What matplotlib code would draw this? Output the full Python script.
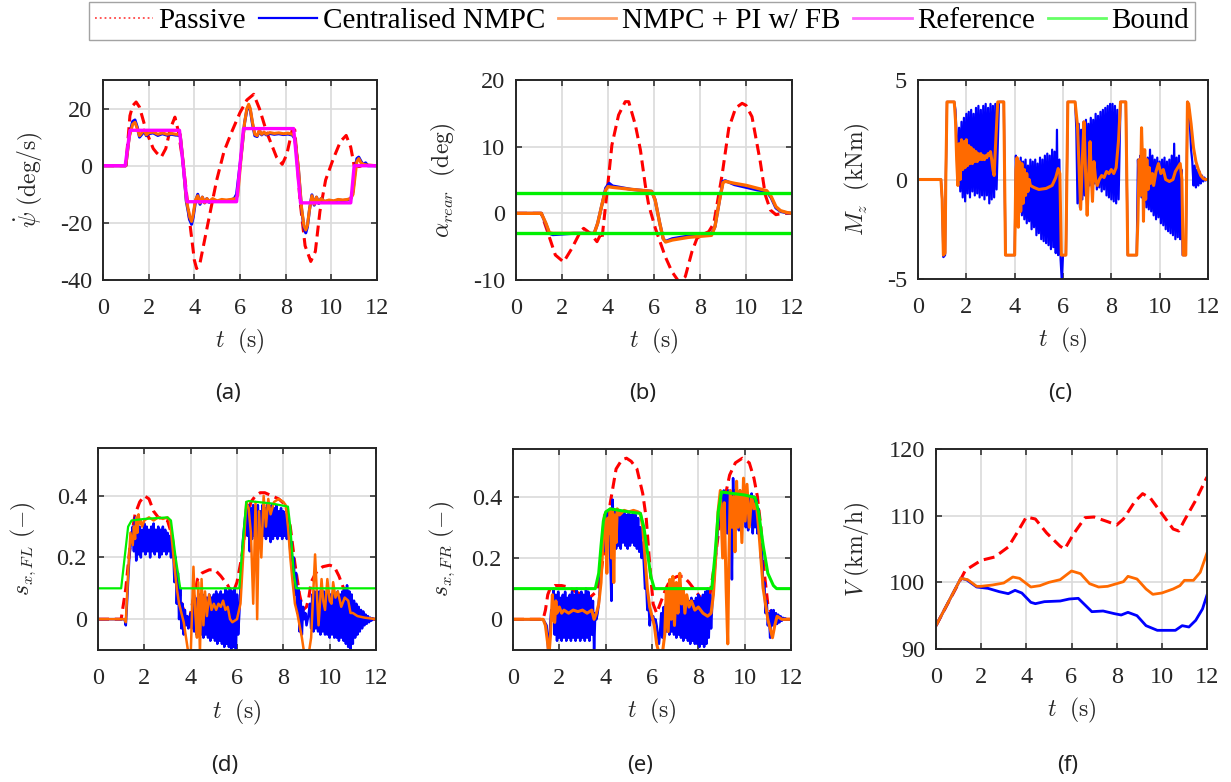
import numpy as np
import matplotlib
matplotlib.use("Agg")
import matplotlib.pyplot as plt
from matplotlib.lines import Line2D

plt.rcParams['font.family'] = ['Liberation Serif', 'DejaVu Serif']
plt.rcParams['mathtext.fontset'] = 'cm'
plt.rcParams['axes.unicode_minus'] = False


def band(t0, dt, vals):
    return [(round(t0 + i * dt, 4), v) for i, v in enumerate(vals)]


def xy(pts):
    a = np.array(pts, dtype=float)
    return a[:, 0], a[:, 1]


# ---------------- (a) yaw rate (deg/s) ----------------
ref_a = [(0, 0), (0.97, 0), (1.18, 12.4), (3.35, 12.4), (3.68, -12.6), (5.85, -12.6),
         (6.15, 13.0), (8.35, 13.0), (8.65, -13.0), (10.85, -13.0), (11.0, 0), (12, 0)]
pas_a = [(0, 0), (1.0, 0), (1.18, 17.5), (1.3, 21), (1.45, 22.3), (1.6, 20.5), (1.91, 11.7),
         (2.2, 6), (2.35, 4.5), (2.55, 3), (2.75, 6), (2.95, 13), (3.15, 17), (3.3, 12),
         (3.52, 0.2), (3.81, -20.5), (4.0, -33), (4.1, -36), (4.25, -34), (4.55, -22),
         (4.98, -5), (5.3, 5), (5.63, 11.7), (6.0, 18.6), (6.3, 23), (6.6, 25), (6.85, 20),
         (7.17, 11.7), (7.6, 3), (7.85, 0.5), (8.05, 4), (8.3, 13), (8.4, 12.5), (8.63, -12.4),
         (8.85, -28), (9.1, -33.5), (9.3, -30), (9.5, -16), (9.75, -5), (10.09, 2.5),
         (10.4, 8.5), (10.65, 10.6), (10.85, 6.5), (11.0, 0), (11.2, -0.3), (11.5, 0.2), (12, 0)]
cen_a = [(0, 0), (1.0, 0), (1.15, 10.5), (1.3, 15.5), (1.4, 16.0), (1.5, 13.5), (1.6, 10.0),
         (1.7, 11.0), (1.8, 12.0), (1.9, 10.5), (2.0, 11.2), (2.2, 11.5), (2.4, 10.6), (2.6, 11.2),
         (2.8, 10.7), (3.0, 11.0), (3.2, 10.7), (3.38, 10.8), (3.5, 1.5), (3.65, -12.5),
         (3.8, -19), (3.88, -20.5), (3.95, -18), (4.05, -12.5), (4.15, -10), (4.25, -13.5),
         (4.35, -11), (4.45, -13), (4.55, -11.5), (4.65, -12.8), (4.8, -11.8), (5.0, -12.5),
         (5.2, -12.2), (5.4, -12.3), (5.6, -12), (5.75, -11.5), (5.85, -10.0), (6.05, 3.5),
         (6.2, 15), (6.3, 19.5), (6.38, 21), (6.45, 19.5), (6.55, 14.5), (6.65, 10.5),
         (6.75, 10.2), (6.85, 12.2), (6.95, 10.8), (7.05, 11.5), (7.15, 10.8), (7.3, 11.3),
         (7.5, 11.0), (7.7, 11.2), (7.9, 10.9), (8.1, 11.1), (8.3, 10.7), (8.4, 9.5), (8.55, -0.5),
         (8.7, -15.5), (8.8, -21.5), (8.88, -23.5), (8.95, -21.5), (9.05, -15), (9.15, -10.2),
         (9.25, -13.8), (9.35, -11), (9.45, -13.2), (9.55, -11.5), (9.7, -12.6), (9.9, -12.2),
         (10.1, -12.5), (10.3, -12), (10.5, -12.2), (10.7, -12), (10.85, -11.5), (10.95, -9),
         (11.05, -1), (11.12, 2.5), (11.2, 3.0), (11.3, 1.5), (11.4, 0.3), (11.5, 1.0), (11.6, 0.0), (12, 0)]
pi_a = [(0, 0), (1.0, 0), (1.15, 10), (1.3, 14.5), (1.4, 15.2), (1.5, 13), (1.6, 10.5), (1.7, 11.5),
        (1.8, 12.5), (1.9, 10.8), (2.0, 11.5), (2.2, 11.8), (2.4, 11), (2.6, 11.5), (2.8, 11),
        (3.0, 11.3), (3.2, 11), (3.38, 11), (3.5, 2), (3.65, -12), (3.8, -18), (3.88, -19.5),
        (3.95, -17), (4.05, -12), (4.15, -10.5), (4.25, -13), (4.35, -11), (4.45, -13),
        (4.55, -11.5), (4.65, -12.5), (4.8, -11.5), (5.0, -12.3), (5.2, -11.8), (5.4, -12),
        (5.6, -11.8), (5.8, -11.5), (5.9, -10.5), (6.05, 3), (6.2, 15), (6.3, 20), (6.38, 21.5),
        (6.45, 20), (6.55, 15), (6.65, 11), (6.75, 10.5), (6.85, 12.5), (6.95, 11), (7.05, 11.8),
        (7.15, 11), (7.3, 11.6), (7.5, 11.3), (7.7, 11.5), (7.9, 11.2), (8.1, 11.4), (8.3, 11),
        (8.4, 10), (8.55, 0), (8.7, -15), (8.8, -21), (8.88, -22.5), (8.95, -21), (9.05, -15),
        (9.15, -10.5), (9.25, -13.5), (9.35, -11), (9.45, -13), (9.55, -11.5), (9.7, -12.5),
        (9.9, -12), (10.1, -12.3), (10.3, -11.8), (10.5, -12), (10.7, -11.8), (10.85, -11.5),
        (10.95, -10), (11.05, -3), (11.12, 1.5), (11.2, 2.5), (11.3, 1), (11.4, 0.5), (11.6, 0.2), (12, 0)]

# ---------------- (b) rear slip angle (deg) ----------------
bound_b = [3.0, -3.0]
pas_b = [(0, 0), (1.1, 0), (1.42, -3.25), (1.71, -6.25), (2.07, -7.3), (2.43, -5.25),
         (2.8, -2.75), (2.94, -2.25), (3.23, -3.0), (3.52, -4.25), (3.67, -3.25), (3.74, -3.75),
         (3.96, 3.25), (4.17, 10.25), (4.46, 14.75), (4.75, 16.75), (4.9, 16.75), (5.19, 13.25),
         (5.41, 9.5), (5.62, 4.25), (5.77, 1.25), (6.06, -2.25), (6.49, -6.5), (6.78, -8.75),
         (7.07, -10.2), (7.36, -9.5), (7.65, -5.75), (7.87, -3.75), (8.1, -3.2), (8.38, -2.75),
         (8.6, -1.5), (8.96, 5.75), (9.25, 12.75), (9.55, 15.8), (9.83, 16.5), (10.0, 16.2),
         (10.26, 14.5), (10.62, 7.75), (10.84, 2.75), (11.06, 0.5), (11.3, -0.2), (11.6, 0), (12, 0)]
cen_b = [(0, 0), (1.1, 0), (1.3, -1.6), (1.45, -3.0), (1.6, -3.2), (2.5, -3.0), (3.4, -3.0),
         (3.55, -1.5), (3.75, 1.5), (3.9, 3.8), (4.05, 4.5), (4.2, 4.1), (5.0, 3.6), (5.9, 3.3),
         (6.05, 2.0), (6.25, -1.5), (6.4, -3.8), (6.5, -4.2), (6.8, -3.8), (7.5, -3.4), (8.5, -3.1),
         (8.65, -2), (8.85, 2), (9.0, 4.8), (9.1, 4.9), (9.5, 4.3), (10.0, 3.9), (10.5, 3.5),
         (10.9, 3.3), (11.1, 2.3), (11.3, 0.8), (11.5, 0.3), (11.8, 0.05), (12, 0)]
pi_b = [(0, 0), (1.1, 0), (1.3, -1.5), (1.45, -2.9), (1.6, -3.0), (2.5, -3.0), (3.4, -3.0),
        (3.55, -1.5), (3.75, 1.5), (3.9, 3.5), (4.0, 4.0), (4.2, 3.9), (5.0, 3.6), (5.9, 3.3),
        (6.05, 2.0), (6.25, -1.5), (6.4, -3.8), (6.5, -4.3), (6.8, -4.0), (7.5, -3.6), (8.5, -3.3),
        (8.65, -2), (8.85, 2), (9.0, 4.6), (9.1, 4.8), (9.5, 4.5), (10.0, 4.2), (10.9, 3.4),
        (11.1, 2.5), (11.3, 1.0), (11.5, 0.4), (11.8, 0.1), (12, 0)]

# ---------------- (c) yaw moment (kNm) ----------------
cen_c = ([(0, 0), (0.95, 0), (1.0, -1), (1.05, -3.9), (1.12, -3.8), (1.15, 0), (1.2, 3.9),
          (1.5, 3.9), (1.55, 3.5)]
         + band(1.6, 0.05, [2.2, -0.2, 2.6, -0.6, 2.9, -0.9, 3.1, -1.1, 3.3, -0.7, 3.4, -0.9,
                            3.5, -0.6, 3.3, -0.8, 3.6, -0.7, 3.7, -0.9, 3.5, -0.8, 3.7, -1.0,
                            3.8, -0.8, 3.6, -1.2, 3.8, -1.0, 3.7, -0.9, 3.8, -0.5])
         + [(3.35, 3.9), (3.55, 3.9), (3.62, -3.8), (4.0, -3.8)]
         + band(4.05, 0.05, [1.2, -1.2, 0.8, -1.6, 1.1, -1.8, 0.9, -2.0, 1.0, -2.2, 0.7, -2.1,
                             1.0, -2.5, 0.9, -2.4, 1.0, -2.8, 0.8, -2.7, 1.1, -3.0, 1.0, -3.1,
                             1.2, -3.2, 1.3, -3.3, 1.2, -3.5, 1.5, -3.4, 1.4, -3.7, 2.5, -3.8,
                             1.0, -4.0])
         + [(5.95, -5.1), (6.0, -3.8), (6.12, -3.8), (6.2, 3.9), (6.5, 3.9)]
         + band(6.55, 0.05, [2.6, -1.2, 2.8, -1.4, 2.5, -1.0, 2.9, -0.8, 3.0, -0.6, 2.8, -0.3,
                             3.1, -0.4, 3.0, -0.2, 3.3, -0.5, 3.2, -0.4, 3.4, -0.6, 3.5, -0.5,
                             3.6, -0.8, 3.7, -0.9, 3.8, -1.0, 3.8, -1.1, 3.7, -1.2, 3.5, -1.0])
         + [(8.38, 3.9), (8.6, 3.9), (8.68, -3.8), (9.05, -3.8)]
         + band(9.1, 0.05, [1.0, -0.5, 1.2, -0.9, 1.0, -1.2, 0.9, -1.4, 1.1, -1.5, 1.5, -1.6,
                            1.2, -1.8, 1.0, -2.0, 1.1, -1.9, 0.9, -2.2, 1.0, -2.3, 1.1, -2.5,
                            0.9, -2.6, 1.0, -2.7, 1.2, -2.8, 1.8, -3.0, 1.1, -2.9, 1.2, -3.0, 0.5])
         + [(10.95, -3.8), (11.08, -3.8), (11.15, 3.9), (11.22, 3.5), (11.3, 1.5)]
         + band(11.35, 0.05, [0.9, -0.3, 0.7, -0.4, 0.5, -0.3, 0.4, -0.2, 0.2, -0.1, 0.1, -0.05,
                              0.02, 0.0]))
pi_c = ([(0, 0), (0.95, 0), (1.0, -1), (1.05, -3.8), (1.12, -3.7), (1.15, 0), (1.2, 3.9),
         (1.5, 3.9), (1.55, 3.0)]
        + band(1.6, 0.05, [1.0, -0.3, 1.8, 0.0, 2.0, 0.5, 1.9, 0.6, 2.0, 0.7, 1.7, 0.8, 1.6,
                           0.8, 1.5, 0.9, 1.4, 0.9, 1.3, 1.0, 1.3, 1.0, 1.2, 1.0, 1.2, 1.1,
                           1.3, 1.2, 1.4, 1.0, 0.5, 0.2, 1.5])
        + [(3.3, 3.9), (3.55, 3.9), (3.62, -3.8), (4.0, -3.8)]
        + band(4.05, 0.05, [0.5, 1.1, -2.4, 0.9, -1.6, 0.8, -1.2, 0.5, -0.8, 0.3, -0.6, 0.0, -0.3])
        + [(4.8, -0.4), (5.0, -0.5), (5.3, -0.45), (5.55, -0.3), (5.7, 0.1), (5.8, 0.55),
           (5.87, 0.3), (5.93, -3.8), (6.12, -3.8), (6.2, 3.9), (6.5, 3.9), (6.55, 3.3),
           (6.6, 2.7), (6.67, 0.5), (6.73, -1.5), (6.8, 1.0), (6.87, 2.9), (6.93, 0.5),
           (7.0, -1.8), (7.06, 0.2), (7.12, 1.9), (7.17, 0.2), (7.22, -1.1), (7.28, 0.9),
           (7.35, 0.0), (7.42, -0.3), (7.5, 0.0), (7.6, 0.2), (7.7, 0.1), (7.8, 0.4), (7.9, 0.3),
           (8.0, 0.5), (8.1, 0.3), (8.2, 0.6), (8.3, 2.0), (8.38, 3.9), (8.6, 3.9), (8.68, -3.8),
           (9.05, -3.8), (9.1, -2.0), (9.15, 1.0), (9.2, -0.8), (9.25, 2.6), (9.3, 0.5),
           (9.33, -2.1), (9.38, 1.5), (9.42, -1.0), (9.47, 1.0), (9.52, -0.5), (9.57, 0.6),
           (9.62, -0.2), (9.7, 0.3), (9.75, -0.3), (9.85, 0.4), (9.95, 0.8), (10.05, 0.3),
           (10.15, 0.5), (10.25, 0.0), (10.4, -0.1), (10.55, 0.0), (10.65, 0.4), (10.75, 0.6),
           (10.85, 0.8), (10.92, 0.0), (10.97, -3.8), (11.08, -3.8), (11.15, 3.9), (11.2, 3.8),
           (11.3, 2.8), (11.4, 1.6), (11.5, 0.9), (11.6, 0.5), (11.7, 0.2), (11.8, 0.05),
           (11.9, 0.0), (12, 0.0)])

# ---------------- (d) front-left slip ratio (-) ----------------
bound_d = [(0, 0.1), (1.0, 0.1), (1.15, 0.2), (1.3, 0.3), (1.45, 0.32), (2.0, 0.325), (3.0, 0.33),
           (3.15, 0.32), (3.35, 0.2), (3.55, 0.1), (6.1, 0.1), (6.25, 0.25), (6.4, 0.38),
           (6.5, 0.383), (7.5, 0.375), (8.2, 0.365), (8.3, 0.3), (8.45, 0.15), (8.55, 0.1), (12, 0.1)]
pas_d = [(0, 0), (1.0, 0), (1.2, 0.1), (1.4, 0.25), (1.6, 0.34), (1.8, 0.38), (2.0, 0.40),
         (2.2, 0.39), (2.4, 0.35), (2.6, 0.33), (2.8, 0.325), (3.0, 0.32), (3.2, 0.27), (3.4, 0.15),
         (3.6, 0.05), (3.8, 0.01), (3.95, 0.0), (4.1, 0.06), (4.3, 0.13), (4.5, 0.15), (4.8, 0.16),
         (5.05, 0.16), (5.3, 0.14), (5.6, 0.11), (5.8, 0.08), (6.0, 0.12), (6.2, 0.2), (6.4, 0.32),
         (6.6, 0.38), (6.8, 0.40), (7.0, 0.41), (7.2, 0.41), (7.5, 0.40), (7.8, 0.39), (8.1, 0.37),
         (8.3, 0.3), (8.5, 0.18), (8.7, 0.08), (8.85, 0.03), (9.0, 0.04), (9.1, 0.07), (9.2, 0.12),
         (9.4, 0.15), (9.7, 0.17), (10.0, 0.175), (10.2, 0.17), (10.4, 0.14), (10.6, 0.1),
         (10.8, 0.05), (11.0, 0.02), (11.3, 0.0), (12, 0)]
cen_d = ([(0, 0), (1.0, 0), (1.15, 0.0), (1.2, -0.02), (1.25, 0.05), (1.35, 0.2), (1.45, 0.27)]
         + band(1.5, 0.05, [0.30, 0.22, 0.33, 0.19, 0.31, 0.21, 0.30, 0.20, 0.29, 0.22, 0.31, 0.21,
                            0.30, 0.22, 0.29, 0.20, 0.30, 0.22, 0.31, 0.21, 0.29, 0.22, 0.30, 0.20,
                            0.29, 0.21, 0.30, 0.22, 0.29, 0.21, 0.28, 0.22, 0.27, 0.20, 0.26])
         + band(3.25, 0.05, [0.22, 0.12, 0.20, 0.05, 0.15, 0.0, 0.10, -0.03, 0.05, -0.05, 0.03,
                             -0.02, 0.01, -0.03, 0.0])
         + band(4.0, 0.05, [0.02, -0.03, 0.06, -0.04, 0.07, -0.05, 0.06, -0.04, 0.08, -0.05, 0.07,
                            -0.06, 0.08, -0.05, 0.07, -0.06, 0.08, -0.07, 0.07, -0.06, 0.08, -0.07,
                            0.09, -0.08, 0.08, -0.07, 0.09, -0.08, 0.08, -0.09, 0.10, -0.08, 0.09,
                            -0.09, 0.10, -0.10, 0.09, -0.09, 0.10, -0.10, 0.08, -0.05, 0.02])
         + [(6.15, 0.1), (6.25, 0.25), (6.35, 0.33)]
         + band(6.4, 0.05, [0.36, 0.27, 0.37, 0.22, 0.36, 0.26, 0.37, 0.27, 0.36, 0.25, 0.37, 0.27,
                            0.35, 0.26, 0.37, 0.27, 0.36, 0.26, 0.37, 0.27, 0.36, 0.25, 0.37, 0.26,
                            0.36, 0.27, 0.37, 0.26, 0.35, 0.27, 0.36, 0.26, 0.35, 0.27, 0.34, 0.26,
                            0.33])
         + band(8.25, 0.05, [0.28, 0.22, 0.25, 0.15, 0.20, 0.08, 0.15, 0.02, 0.10, -0.04, 0.06,
                             -0.05, 0.04, 0.0, 0.02, -0.02, 0.0, 0.02])
         + band(9.15, 0.05, [0.05, -0.03, 0.08, -0.04, 0.09, -0.03, 0.08, -0.04, 0.09, -0.05, 0.08,
                             -0.04, 0.09, -0.05, 0.08, -0.05, 0.09, -0.06, 0.08, -0.05, 0.09, -0.06,
                             0.08, -0.06, 0.09, -0.07, 0.08, -0.06, 0.09, -0.07, 0.10, -0.08, 0.11,
                             -0.09, 0.09, -0.10, 0.08, -0.08, 0.06, -0.06, 0.05, -0.05, 0.04, -0.04,
                             0.03, -0.03, 0.025, -0.02, 0.015, -0.015, 0.01, -0.01, 0.005, -0.005,
                             0.003, 0.0, 0.0, 0.0]))
pi_d = [(0, 0), (1.0, 0), (1.15, 0.0), (1.2, -0.01), (1.3, 0.15), (1.4, 0.28), (1.5, 0.24),
        (1.55, 0.30), (1.6, 0.26), (1.65, 0.33), (1.7, 0.28), (1.75, 0.34), (1.8, 0.31), (1.85, 0.32),
        (1.9, 0.30), (2.0, 0.32), (2.2, 0.33), (2.4, 0.32), (2.6, 0.33), (2.8, 0.325), (3.0, 0.33),
        (3.1, 0.32), (3.2, 0.25), (3.3, 0.17), (3.4, 0.10), (3.5, 0.05), (3.6, 0.02), (3.7, -0.01),
        (3.8, -0.06), (3.9, -0.11), (4.0, -0.12), (4.05, 0.0), (4.12, 0.17), (4.2, 0.02),
        (4.27, -0.06), (4.33, 0.12), (4.4, -0.11), (4.47, 0.13), (4.55, -0.02), (4.62, 0.09),
        (4.7, 0.01), (4.8, 0.08), (4.9, 0.03), (5.0, 0.05), (5.1, 0.03), (5.2, 0.05), (5.3, 0.04),
        (5.4, 0.06), (5.5, 0.03), (5.6, 0.04), (5.7, 0.0), (5.8, -0.01), (6.0, 0.0), (6.15, 0.05),
        (6.3, 0.25), (6.4, 0.38), (6.5, 0.36), (6.6, 0.28), (6.7, 0.05), (6.8, 0.38), (6.87, 0.0),
        (6.95, 0.35), (7.05, 0.2), (7.15, 0.40), (7.25, 0.3), (7.35, 0.39), (7.45, 0.34), (7.6, 0.38),
        (7.8, 0.39), (8.0, 0.38), (8.1, 0.37), (8.2, 0.3), (8.3, 0.2), (8.4, 0.12), (8.5, 0.05),
        (8.6, 0.02), (8.7, -0.02), (8.8, -0.06), (8.9, -0.11), (9.1, -0.11), (9.2, -0.06),
        (9.3, 0.1), (9.37, 0.21), (9.45, 0.08), (9.52, -0.02), (9.58, 0.05), (9.65, 0.13),
        (9.72, 0.06), (9.8, 0.03), (9.9, 0.13), (10.0, 0.06), (10.08, 0.05), (10.15, 0.12),
        (10.25, 0.07), (10.35, 0.09), (10.5, 0.04), (10.65, 0.07), (10.8, 0.06), (10.9, 0.02),
        (11.0, 0.02), (11.2, 0.01), (11.5, 0.005), (12, 0)]

# ---------------- (e) front-right slip ratio (-) ----------------
bound_e = [(0, 0.1), (3.55, 0.1), (3.7, 0.15), (3.8, 0.24), (3.9, 0.32), (4.0, 0.35), (4.2, 0.36),
           (5.0, 0.35), (5.5, 0.345), (5.65, 0.3), (5.8, 0.22), (5.95, 0.14), (6.1, 0.1),
           (8.58, 0.1), (8.72, 0.21), (8.86, 0.35), (9.0, 0.415), (9.5, 0.41), (10.0, 0.405),
           (10.45, 0.397), (10.6, 0.35), (10.8, 0.24), (11.0, 0.15), (11.24, 0.11), (11.38, 0.1), (12, 0.1)]
pas_e = [(0, 0), (1.3, 0), (1.4, 0.03), (1.5, 0.08), (1.6, 0.1), (1.8, 0.11), (2.1, 0.11),
         (2.4, 0.105), (2.7, 0.09), (3.0, 0.08), (3.3, 0.07), (3.6, 0.09), (3.8, 0.15), (4.0, 0.27),
         (4.2, 0.38), (4.45, 0.49), (4.7, 0.52), (4.9, 0.525), (5.1, 0.515), (5.35, 0.49),
         (5.6, 0.41), (5.75, 0.33), (5.9, 0.18), (6.05, 0.05), (6.2, 0.02), (6.4, 0.06), (6.6, 0.1),
         (6.8, 0.13), (7.1, 0.14), (7.35, 0.14), (7.6, 0.12), (7.9, 0.09), (8.2, 0.06), (8.5, 0.08),
         (8.7, 0.18), (8.9, 0.3), (9.1, 0.38), (9.35, 0.47), (9.6, 0.51), (9.9, 0.525), (10.2, 0.51),
         (10.4, 0.46), (10.55, 0.40), (10.7, 0.3), (10.85, 0.15), (11.0, 0.05), (11.2, 0.01),
         (11.5, 0), (12, 0)]
cen_e = ([(0, 0), (1.3, 0), (1.45, -0.02), (1.52, -0.1), (1.58, -0.05), (1.65, 0.03), (1.7, 0.0)]
         + band(1.75, 0.05, [0.10, -0.05, 0.08, -0.07, 0.09, -0.06, 0.07, -0.07, 0.08, -0.06, 0.09,
                             -0.07, 0.07, -0.06, 0.08, -0.07, 0.09, -0.06, 0.08, -0.07, 0.10, -0.06,
                             0.08, -0.07, 0.09, -0.06, 0.08, -0.07, 0.10, -0.06, 0.09, -0.07, 0.07,
                             -0.05, 0.06, -0.10, 0.02, 0.0])
         + [(3.65, 0.02), (3.7, 0.05), (3.75, 0.1), (3.8, 0.18), (3.85, 0.25), (3.9, 0.3)]
         + band(3.95, 0.05, [0.32, 0.22, 0.35, 0.25, 0.30, 0.20, 0.06, 0.39, 0.24, 0.35, 0.23, 0.34,
                             0.24, 0.35, 0.23, 0.34, 0.25, 0.35, 0.24, 0.34, 0.23, 0.35, 0.24, 0.34,
                             0.25, 0.35, 0.24, 0.34, 0.23, 0.33, 0.22, 0.30, 0.20, 0.25])
         + band(5.65, 0.05, [0.18, 0.10, 0.12, 0.03, 0.06, -0.02, 0.02, 0.0, 0.01, -0.01, 0.0,
                             -0.02, -0.05, -0.08])
         + band(6.35, 0.05, [-0.04, 0.02, -0.06, 0.04, -0.05, 0.05, -0.04, 0.06, -0.05, 0.05, -0.04,
                             0.06, -0.05, 0.05, -0.06, 0.06, -0.05, 0.05, -0.06, 0.06, -0.07, 0.05,
                             -0.06, 0.07, -0.07, 0.06, -0.08, 0.07, -0.07, 0.06, -0.08, 0.07, -0.08,
                             0.08, -0.09, 0.07, -0.08, 0.08, -0.09, 0.09, -0.08, 0.10, -0.06, 0.08,
                             -0.03, 0.05])
         + [(8.65, 0.1), (8.75, 0.2), (8.85, 0.3), (8.95, 0.38)]
         + band(9.0, 0.05, [0.40, 0.30, 0.42, 0.32, 0.41, 0.28, 0.42, 0.31, 0.40, 0.13, 0.46, 0.30,
                            0.42, 0.31, 0.41, 0.29, 0.42, 0.30, 0.41, 0.32, 0.42, 0.30, 0.41, 0.29,
                            0.40, 0.31, 0.41, 0.28, 0.40, 0.30, 0.39, 0.28, 0.36])
         + band(10.65, 0.05, [0.30, 0.20, 0.22, 0.10, 0.12, 0.02, 0.06, -0.02, 0.02, -0.06, 0.03,
                              -0.02])
         + band(11.25, 0.05, [0.03, -0.02, 0.02, -0.015, 0.015, -0.01, 0.01, -0.005, 0.005, 0.0,
                              0.003, 0.0, 0.0, 0.0, 0.0, 0.0]))
pi_e = [(0, 0), (1.3, 0), (1.4, -0.02), (1.5, -0.08), (1.55, -0.12), (1.62, -0.05), (1.7, 0.08),
        (1.75, 0.0), (1.8, -0.01), (1.85, 0.06), (1.9, 0.02), (2.0, 0.04), (2.1, 0.02), (2.2, 0.03),
        (2.4, 0.02), (2.6, 0.03), (2.8, 0.025), (3.0, 0.03), (3.2, 0.02), (3.4, 0.03), (3.5, 0.0),
        (3.6, 0.02), (3.7, 0.05), (3.8, 0.12), (3.85, 0.2), (3.9, 0.30), (3.95, 0.34), (4.0, 0.30),
        (4.05, 0.15), (4.1, 0.33), (4.15, 0.28), (4.2, 0.36), (4.25, 0.2), (4.3, 0.35), (4.35, 0.12),
        (4.4, 0.34), (4.45, 0.25), (4.5, 0.36), (4.6, 0.34), (4.8, 0.355), (5.0, 0.35), (5.2, 0.355),
        (5.4, 0.35), (5.5, 0.345), (5.6, 0.3), (5.7, 0.2), (5.8, 0.1), (5.9, 0.04), (6.0, 0.01),
        (6.1, -0.02), (6.2, -0.08), (6.3, -0.11), (6.45, -0.11), (6.55, -0.05), (6.62, 0.1),
        (6.7, -0.04), (6.77, 0.13), (6.83, 0.0), (6.9, 0.14), (6.97, -0.02), (7.05, 0.12),
        (7.12, 0.02), (7.2, 0.15), (7.27, 0.05), (7.35, 0.1), (7.42, 0.02), (7.5, 0.08), (7.6, 0.04),
        (7.7, 0.06), (7.85, 0.03), (8.0, 0.04), (8.2, 0.02), (8.4, 0.01), (8.55, 0.02), (8.65, 0.08),
        (8.75, 0.2), (8.85, 0.35), (8.95, 0.42), (9.05, 0.2), (9.12, 0.38), (9.2, 0.1), (9.27, -0.08),
        (9.32, 0.2), (9.38, 0.42), (9.45, 0.3), (9.52, 0.40), (9.58, 0.22), (9.65, 0.45), (9.72, 0.3),
        (9.8, 0.42), (9.88, 0.25), (9.95, 0.46), (10.02, 0.32), (10.1, 0.44), (10.2, 0.3),
        (10.3, 0.40), (10.4, 0.36), (10.5, 0.38), (10.6, 0.3), (10.7, 0.2), (10.8, 0.1), (10.9, 0.05),
        (11.0, 0.0), (11.1, -0.03), (11.2, -0.06), (11.3, -0.02), (11.4, 0.01), (11.6, 0.0), (12, 0)]

# ---------------- (f) speed (km/h) ----------------
pas_f = [(0, 93.5), (1.1, 100.5), (1.3, 101.8), (2.0, 103.3), (2.6, 103.8), (3.2, 105.3),
         (3.6, 107.5), (4.0, 109.8), (4.4, 109.5), (4.9, 107.4), (5.5, 105.4), (5.7, 105.0),
         (6.1, 107.3), (6.6, 109.7), (7.0, 109.8), (7.6, 109.1), (8.0, 108.6), (8.3, 109.5),
         (8.8, 112.1), (9.15, 113.3), (9.5, 112.6), (10.0, 110.3), (10.5, 108.0), (10.75, 107.7),
         (11.0, 109.3), (11.5, 112.3), (12.0, 115.8)]
cen_f = [(0, 93.5), (1.1, 100.6), (1.35, 100.4), (1.8, 99.3), (2.3, 99.1), (2.8, 98.6), (3.2, 98.3),
         (3.5, 98.8), (3.8, 98.4), (4.2, 97.0), (4.4, 96.8), (4.8, 97.1), (5.5, 97.2), (5.9, 97.5),
         (6.3, 97.6), (6.6, 96.6), (6.9, 95.6), (7.4, 95.7), (7.9, 95.3), (8.2, 95.1), (8.5, 95.5),
         (8.9, 95.0), (9.3, 93.5), (9.8, 92.8), (10.6, 92.8), (10.9, 93.5), (11.2, 93.3),
         (11.5, 94.3), (11.8, 96.0), (12.0, 98.1)]
pi_f = [(0, 93.5), (1.1, 100.6), (1.4, 100.4), (1.8, 99.4), (2.0, 99.4), (2.5, 99.6), (3.0, 99.9),
        (3.4, 100.8), (3.7, 100.6), (4.2, 99.3), (4.6, 99.5), (5.0, 100.0), (5.5, 100.4),
        (6.0, 101.7), (6.4, 101.3), (6.8, 99.8), (7.2, 99.3), (7.6, 99.4), (8.0, 99.8), (8.3, 100.1),
        (8.5, 100.9), (8.9, 100.5), (9.3, 99.0), (9.6, 98.2), (10.0, 98.4), (10.5, 99.0),
        (10.8, 99.5), (11.0, 100.3), (11.4, 100.3), (11.7, 101.5), (12.0, 104.4)]

C_PAS, C_CEN, C_PI, C_REF, C_BND = '#ff0000', '#0000ff', '#ff6a00', '#ff00ff', '#00f000'
DASH = (0, (3.6, 1.9))

W, H = 1231, 782
fig = plt.figure(figsize=(W / 100, H / 100), dpi=100)


def make_ax(x0, y0, x1, y1):
    return fig.add_axes([x0 / W, 1 - y1 / H, (x1 - x0) / W, (y1 - y0) / H])


def style(ax, ylim, yticks, ylabel, ylab_x, yticklabels=None):
    ax.set_xlim(0, 12)
    ax.set_ylim(*ylim)
    ax.set_xticks(range(0, 13, 2))
    ax.set_yticks(yticks)
    if yticklabels is not None:
        ax.set_yticklabels(yticklabels)
    ax.grid(True, color='#dadada', lw=1.2)
    ax.set_axisbelow(True)
    ax.tick_params(direction='in', top=True, right=True, length=4, width=1.1,
                   labelsize=17.5, colors='#262626')
    ax.tick_params(axis='x', pad=13)
    ax.tick_params(axis='y', pad=8)
    for s in ax.spines.values():
        s.set_color('#262626')
        s.set_linewidth(1.4)
    ax.set_xlabel(r'$t\ \ \mathrm{(s)}$', fontsize=17, color='#262626')
    ax.set_ylabel(ylabel, fontsize=17, color='#262626')
    ax.yaxis.set_label_coords(ylab_x, 0.5)
    ax.xaxis.set_label_coords(0.5, -0.235)


# (a)
ax = make_ax(103, 80, 377, 280)
ax.plot(*xy(pas_a), color=C_PAS, lw=2.2, ls=DASH)
ax.plot(*xy(cen_a), color=C_CEN, lw=2.2)
ax.plot(*xy(pi_a), color=C_PI, lw=2.2)
ax.plot(*xy(ref_a), color=C_REF, lw=2.4)
style(ax, (-40, 30), [-40, -20, 0, 20], r'$\dot{\psi}\ \mathrm{(deg/s)}$', -0.212)

# (b)
ax = make_ax(516, 80, 792, 280)
ax.plot(*xy(pas_b), color=C_PAS, lw=2.2, ls=DASH)
ax.plot(*xy(cen_b), color=C_CEN, lw=2.2)
ax.plot(*xy(pi_b), color=C_PI, lw=2.4)
for b in bound_b:
    ax.axhline(b, color=C_BND, lw=2.4)
style(ax, (-10, 20), [-10, 0, 10, 20], r'$\alpha_{rear}\ \ \mathrm{(deg)}$', -0.21)

# (c)
ax = make_ax(918, 80, 1208, 279)
ax.plot(*xy(cen_c), color=C_CEN, lw=1.6)
ax.plot(*xy(pi_c), color=C_PI, lw=2.2)
style(ax, (-5, 5), [-5, 0, 5], r'$M_z\ \ \mathrm{(kNm)}$', -0.159)

# (d)
ax = make_ax(98, 448, 376, 650)
ax.plot(*xy(pas_d), color=C_PAS, lw=2.2, ls=DASH)
ax.plot(*xy(cen_d), color=C_CEN, lw=1.8)
ax.plot(*xy(pi_d), color=C_PI, lw=1.8)
ax.plot(*xy(bound_d), color=C_BND, lw=1.6)
style(ax, (-0.1, 0.555), [0, 0.2, 0.4], r'$s_{x,FL}\ (-)$', -0.216, ['0', '0.2', '0.4'])

# (e)
ax = make_ax(513, 449, 791, 650)
ax.plot(*xy(pas_e), color=C_PAS, lw=2.2, ls=DASH)
ax.plot(*xy(cen_e), color=C_CEN, lw=1.8)
ax.plot(*xy(pi_e), color=C_PI, lw=2.2)
ax.plot(*xy(bound_e), color=C_BND, lw=2.2)
style(ax, (-0.1, 0.555), [0, 0.2, 0.4], r'$s_{x,FR}\ (-)$', -0.2, ['0', '0.2', '0.4'])

# (f)
ax = make_ax(936, 449, 1207, 649)
ax.plot(*xy(pas_f), color=C_PAS, lw=2.2, ls=DASH)
ax.plot(*xy(cen_f), color=C_CEN, lw=2.0)
ax.plot(*xy(pi_f), color=C_PI, lw=2.0)
style(ax, (90, 120), [90, 100, 110, 120], r'$V\ \mathrm{(km/h)}$', -0.236)

# sub-captions
for lab, px, py in [('(a)', 228, 393), ('(b)', 643, 393), ('(c)', 1060, 393),
                    ('(d)', 225, 765), ('(e)', 640, 765), ('(f)', 1068, 765)]:
    fig.text(px / W, 1 - py / H, lab, ha='center', va='center', fontsize=16,
             family='Noto Sans', color='#222222')

# shared legend
handles = [Line2D([], [], color='#ff4848', lw=1.3, ls=':'),
           Line2D([], [], color=C_CEN, lw=1.6),
           Line2D([], [], color='#ffa066', lw=2.0),
           Line2D([], [], color='#ff66ff', lw=2.0),
           Line2D([], [], color='#66ff66', lw=2.0)]
labels = ['Passive', 'Centralised NMPC', 'NMPC + PI w/ FB', 'Reference', 'Bound']
leg = fig.legend(handles, labels, loc='upper center', bbox_to_anchor=(642 / W, 1 - 2 / H),
                 ncol=5, fontsize=21, frameon=True, fancybox=False, edgecolor='#8c8c8c',
                 handlelength=2.0, handletextpad=0.18, columnspacing=0.45, borderpad=0.2,
                 borderaxespad=0)
leg.get_frame().set_linewidth(1.0)

fig.savefig('out.png', dpi=100)
